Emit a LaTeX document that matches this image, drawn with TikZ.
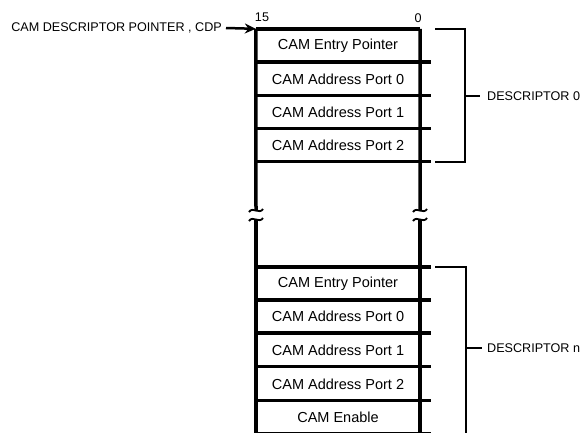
\documentclass[tikz,border=0pt]{standalone}
\usepackage{fontspec}
\setmainfont{Liberation Sans}
\usetikzlibrary{arrows.meta}

\tikzset{
  row/.style={minimum width=164pt, minimum height=33pt, inner sep=0pt, font=\fontsize{14.5}{16}\selectfont},
  box/.style={line width=3.5pt},
  brace/.style={line width=2.5pt},
  lbl/.style={inner sep=0pt, font=\fontsize{12.6}{15}\selectfont},
}

\begin{document}
\begin{tikzpicture}[x=1pt, y=-1pt]
            \useasboundingbox (0,0) rectangle (585,432);

            % Descriptor 0
            \node[row] (e0) at (338,45.5) {CAM Entry Pointer};
            \node[row] (a00) at (338,79) {CAM Address Port 0};
            \node[row] (a01) at (338,112) {CAM Address Port 1};
            \node[row] (a02) at (338,145) {CAM Address Port 2};

            % Descriptor n
            \node[row] (en) at (338,283.5) {CAM Entry Pointer};
            \node[row] (an0) at (338,316.5) {CAM Address Port 0};
            \node[row] (an1) at (338,350) {CAM Address Port 1};
            \node[row] (an2) at (338,384) {CAM Address Port 2};
            \node[row] (cen) at (338,417.5) {CAM Enable};

            % Bits
            \node[lbl, anchor=south] (b15) at (262,22) {15};
            \node[lbl, anchor=south] (b0) at (418,23) {0};

            % Paredes del registro, con corte
            \draw[box] (e0.north west) -- (256,211);
            \draw[box] (256,219) -- (256,434);
            \draw[box] (e0.north east) -- (420,211);
            \draw[box] (420,219) -- (420,434);
            \foreach \x in {256,420} {
              \draw[line width=1.8pt] (\x-7,212) .. controls (\x-3,206) and (\x+3,215) .. (\x+7,209);
              \draw[line width=1.8pt] (\x-7,221) .. controls (\x-3,215) and (\x+3,224) .. (\x+7,218);
            }

            % Lineas entre filas
            \draw[box] (e0.north west) -- (e0.north east);
            \foreach \r in {e0,a00,a01,a02,en,an0,an1,an2,cen} {
              \draw[box] (\r.south west) -- ([xshift=11pt]\r.south east);
            }
            \draw[box] (en.north west) -- ([xshift=11pt]en.north east);

            % Puntero CDP
            \node[lbl, anchor=east] (cdp) at (222,28) {CAM DESCRIPTOR POINTER , CDP};
            \draw[line width=2.5pt, -{Stealth[length=11pt, width=10pt]}] (cdp.east) ++(4pt,0) coordinate (cdps) (cdps) -- (e0.north west);

            % Llave descriptor 0
            \coordinate (d0a) at (435,29);
            \coordinate (d0b) at (435,162);
            \draw[brace] (d0a) -- (465,29) -- (465,162) -- (d0b);
            \node[lbl, anchor=west] (d0) at (487,96) {DESCRIPTOR 0};
            \draw[brace] (465,96) -- (d0.west -| 480,0);

            % Llave descriptor n
            \coordinate (dna) at (435,267);
            \draw[brace] (dna) -- (466,267) -- (466,434);
            \node[lbl, anchor=west] (dn) at (487,348) {DESCRIPTOR n};
            \draw[brace] (466,348) -- (dn.west -| 482,0);

\end{tikzpicture}
\end{document}
